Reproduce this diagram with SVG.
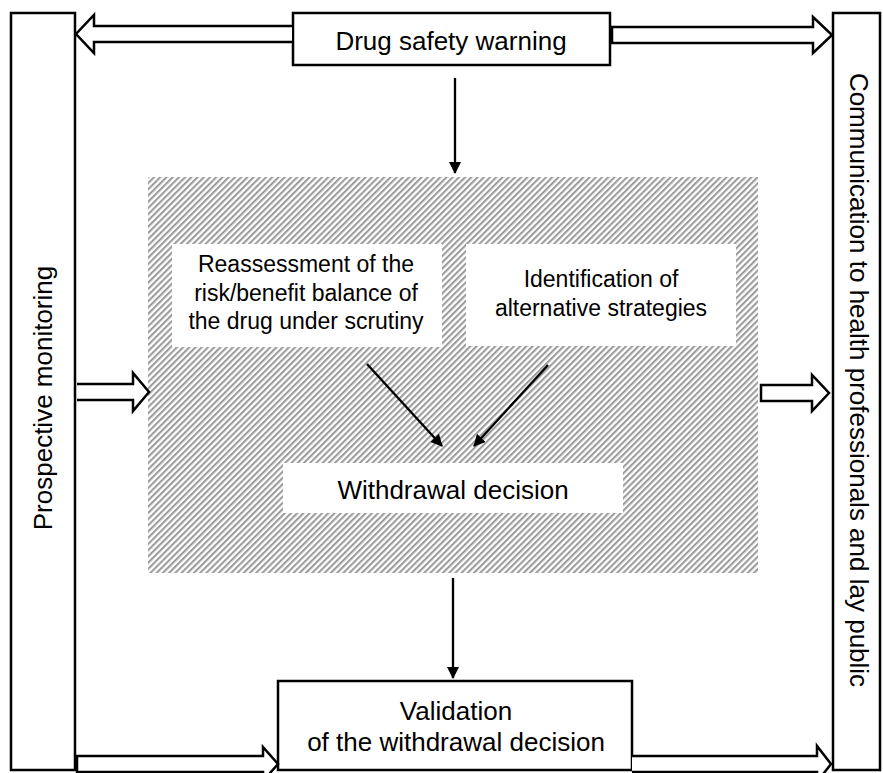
<svg xmlns="http://www.w3.org/2000/svg" width="883" height="773" viewBox="0 0 883 773">
<defs>
<pattern id="hatch" patternUnits="userSpaceOnUse" width="4.4" height="4.4" patternTransform="rotate(45)">
<rect width="4.4" height="4.4" fill="#ffffff"/>
<rect width="2.1" height="4.4" fill="#9c9c9c"/>
</pattern>
<marker id="ah" markerWidth="12" markerHeight="12" refX="11" refY="6" orient="auto" markerUnits="userSpaceOnUse">
<path d="M0,0 L12,6 L0,12 z" fill="#000"/>
</marker>
<style>
.box{fill:#fff;stroke:#000;stroke-width:2.5}
.wbox{fill:#fff;stroke:none}
.blk{fill:#fff;stroke:#000;stroke-width:2.5;stroke-linejoin:miter}
.t{font-family:"Liberation Sans",Arial,sans-serif;fill:#000;text-anchor:middle}
.big{font-size:26px}
.mid{font-size:23px}
.line{stroke:#000;stroke-width:2.3;fill:none;marker-end:url(#ah)}
</style>
</defs>
<rect width="883" height="773" fill="#fff"/>

<g id="hatched-area">
<rect x="148" y="177" width="610" height="396" fill="url(#hatch)"/>
</g>

<g id="prospective-monitoring">
<rect class="box" x="11" y="13" width="64" height="757"/>
<text class="t big" transform="translate(43,398) rotate(-90)" y="9">Prospective monitoring</text>
</g>

<g id="communication">
<rect class="box" x="833" y="13" width="47" height="757"/>
<text class="t big" transform="translate(859,380) rotate(90)" y="9">Communication to health professionals and lay public</text>
</g>

<g id="drug-safety-warning">
<rect class="box" x="293" y="13" width="317" height="52"/>
<text class="t big" x="451" y="50">Drug safety warning</text>
</g>

<g id="reassessment">
<rect class="wbox" x="172" y="244" width="270" height="103"/>
<text class="t mid" x="306" y="272">Reassessment of the</text>
<text class="t mid" x="306" y="301">risk/benefit balance of</text>
<text class="t mid" x="306" y="329">the drug under scrutiny</text>
</g>

<g id="identification">
<rect class="wbox" x="466" y="244" width="270" height="102"/>
<text class="t mid" x="601" y="287">Identification of</text>
<text class="t mid" x="601" y="316">alternative strategies</text>
</g>

<g id="withdrawal-decision">
<rect class="wbox" x="283" y="463" width="340" height="50"/>
<text class="t big" x="453" y="499">Withdrawal decision</text>
</g>

<g id="validation">
<rect class="box" x="278" y="681" width="354" height="89"/>
<text class="t big" x="456" y="720">Validation</text>
<text class="t big" x="456" y="751">of the withdrawal decision</text>
</g>

<g id="connectors">
<line class="line" x1="455" y1="78" x2="455" y2="173"/>
<line class="line" x1="367" y1="364" x2="442" y2="446"/>
<line class="line" x1="548" y1="365" x2="474" y2="446"/>
<line class="line" x1="453" y1="578" x2="453" y2="678"/>
<path class="blk" d="M292,26 L94,26 L94,15 L76,34 L94,53 L94,42 L292,42"/>
<path class="blk" d="M612,27 L813,27 L813,17 L832,35 L813,53 L813,43 L612,43 z"/>
<path class="blk" d="M77,384 L133,384 L133,373 L149,392 L133,411 L133,400 L77,400"/>
<path class="blk" d="M761,385 L812,385 L812,375 L829,393 L812,411 L812,401 L761,401 z"/>
<path class="blk" d="M77,756 L263,756 L263,747 L278,764 L263,781 L263,772 L77,772 z"/>
<path class="blk" d="M632,756 L817,756 L817,746 L831,764 L817,782 L817,772 L632,772"/>
</g>
</svg>
